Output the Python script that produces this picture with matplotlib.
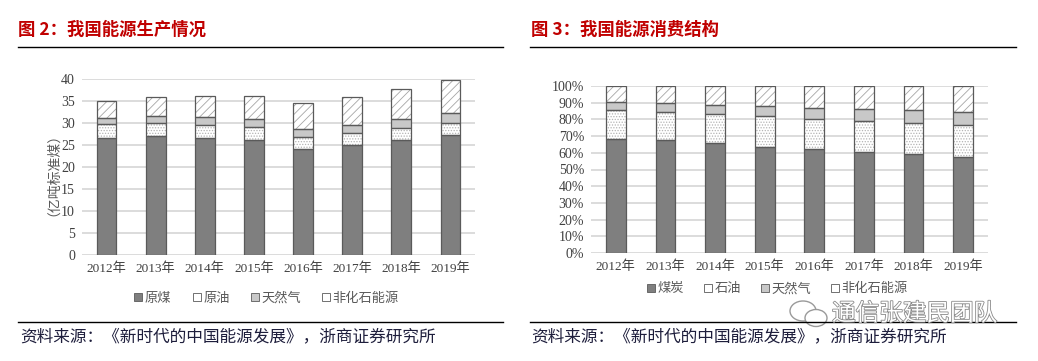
import numpy as np
import matplotlib
matplotlib.use('Agg')
import matplotlib.pyplot as plt
from matplotlib.lines import Line2D
from matplotlib.patches import Patch, Ellipse
import matplotlib.patheffects as pe

plt.rcParams['font.family'] = ['Noto Sans CJK SC', 'DejaVu Sans']
plt.rcParams['hatch.linewidth'] = 0.6

# data
years = ['2012年', '2013年', '2014年', '2015年', '2016年', '2017年', '2018年', '2019年']

# production, 亿吨标准煤
prod_coal = [26.7, 27.1, 26.6, 26.1, 24.1, 25.0, 26.1, 27.2]
prod_oil = [3.0, 3.0, 3.0, 3.1, 2.8, 2.7, 2.7, 2.7]
prod_gas = [1.4, 1.6, 1.7, 1.7, 1.8, 1.9, 2.0, 2.3]
prod_nonfossil = [4.0, 4.2, 4.9, 5.3, 5.9, 6.3, 6.9, 7.5]
prod_names = ['原煤', '原油', '天然气', '非化石能源']
prod_ticks = [0, 5, 10, 15, 20, 25, 30, 35, 40]

# consumption structure, %
cons_coal = [68.5, 67.4, 65.6, 63.7, 62.0, 60.4, 59.0, 57.7]
cons_oil = [17.0, 17.1, 17.4, 18.3, 18.5, 18.8, 18.9, 18.9]
cons_gas = [4.8, 5.3, 5.7, 5.9, 6.2, 7.0, 7.8, 8.1]
cons_nonfossil = [9.7, 10.2, 11.3, 12.1, 13.3, 13.8, 14.3, 15.3]
cons_names = ['煤炭', '石油', '天然气', '非化石能源']
cons_ticks = [0, 10, 20, 30, 40, 50, 60, 70, 80, 90, 100]

# styles: (facecolor, hatch, hatch colour)
styles = [('#7f7f7f', None, None),
          ('#ffffff', '......', '#b4b4b4'),
          ('#c8c8c8', None, None),
          ('#ffffff', '////', '#a6a6a6')]
edge = '#5a5a5a'
num_font = ['Liberation Serif', 'Noto Sans CJK SC']
red = '#c00000'

fig = plt.figure(figsize=(10.38, 3.61), dpi=100)
W, H = 1038.0, 361.0


def fx(px):
    return px / W


def fy(py):
    return 1 - py / H


def stacked(ax, series, names):
    x = np.arange(len(years))
    bottom = np.zeros(len(years))
    handles = []
    for vals, (fc, hatch, hc), name in zip(series, styles, names):
        vals = np.asarray(vals, float)
        if hatch:
            ax.bar(x, vals, 0.4, bottom=bottom, color=fc, hatch=hatch,
                   edgecolor=hc, linewidth=0, zorder=3)
        else:
            ax.bar(x, vals, 0.4, bottom=bottom, color=fc, linewidth=0, zorder=3)
        ax.bar(x, vals, 0.4, bottom=bottom, fill=False, edgecolor=edge,
               linewidth=0.9, zorder=4)
        handles.append(Patch(facecolor=fc, edgecolor=edge, linewidth=0.6, label=name))
        bottom += vals
    ax.set_xlim(-0.5, len(years) - 0.5)
    ax.set_xticks(x)
    ax.set_xticklabels(years, family=num_font, fontsize=9.5, color='#404040')
    for s in ax.spines.values():
        s.set_visible(False)
    ax.tick_params(length=0, pad=5)
    ax.grid(axis='y', color='#dcdcdc', linewidth=1.4, zorder=0)
    ax.set_axisbelow(True)
    return handles


# left chart
ax1 = fig.add_axes([fx(82), fy(255), fx(475 - 82), (255 - 79) / H])
h1 = stacked(ax1, [prod_coal, prod_oil, prod_gas, prod_nonfossil], prod_names)
ax1.set_ylim(0, 40)
ax1.set_yticks(prod_ticks)
ax1.set_yticklabels([str(t) for t in prod_ticks], family=num_font,
                    fontsize=10, color='#404040')
ax1.set_ylabel('（亿吨标准煤）', fontsize=10, color='#595959', labelpad=6)
ax1.legend(handles=h1, loc='center', bbox_to_anchor=(0.47, -0.245), ncol=4,
           frameon=False, fontsize=9.5, handlelength=0.6, handleheight=0.6,
           handletextpad=0.2, columnspacing=1.6, labelcolor='#595959')

# right chart
ax2 = fig.add_axes([fx(591), fy(253), fx(988 - 591), (253 - 86) / H])
h2 = stacked(ax2, [cons_coal, cons_oil, cons_gas, cons_nonfossil], cons_names)
ax2.set_ylim(0, 100)
ax2.set_yticks(cons_ticks)
ax2.set_yticklabels([f'{t}%' for t in cons_ticks], family=num_font,
                    fontsize=10, color='#404040')
ax2.legend(handles=h2, loc='center', bbox_to_anchor=(0.47, -0.215), ncol=4,
           frameon=False, fontsize=9.5, handlelength=0.6, handleheight=0.6,
           handletextpad=0.2, columnspacing=1.5, labelcolor='#595959')

# titles, rules and sources
fig.text(fx(18), fy(30), '图 2：我国能源生产情况', fontsize=12.5, weight='bold',
         color=red, va='center')
fig.text(fx(531), fy(30), '图 3：我国能源消费结构', fontsize=12.5, weight='bold',
         color=red, va='center')
for x0, x1 in [(18, 503), (530, 1016)]:
    fig.add_artist(Line2D([fx(x0), fx(x1)], [fy(47), fy(47)], color='black',
                          linewidth=1.0, transform=fig.transFigure))
    fig.add_artist(Line2D([fx(x0), fx(x1)], [fy(322), fy(322)], color='black',
                          linewidth=1.0, transform=fig.transFigure))
src = '资料来源：《新时代的中国能源发展》，浙商证券研究所'
fig.text(fx(20), fy(337), src, fontsize=12, color='#1e1e3c', va='center')
fig.text(fx(531), fy(337), src, fontsize=12, color='#1e1e3c', va='center')

# watermark
fig.text(fx(832), fy(314), '通信张建民团队', fontsize=17, color='white', va='center',
         path_effects=[pe.withStroke(linewidth=1.2, foreground='#8a8a8a')])
fig.add_artist(Ellipse((fx(803), fy(311)), fx(26), 20 / H, fill=False,
                       edgecolor='#9a9a9a', linewidth=1.0, transform=fig.transFigure))
fig.add_artist(Ellipse((fx(816), fy(318)), fx(22), 17 / H, facecolor='white',
                       edgecolor='#9a9a9a', linewidth=1.0, transform=fig.transFigure))

fig.savefig('out.png', dpi=100)
